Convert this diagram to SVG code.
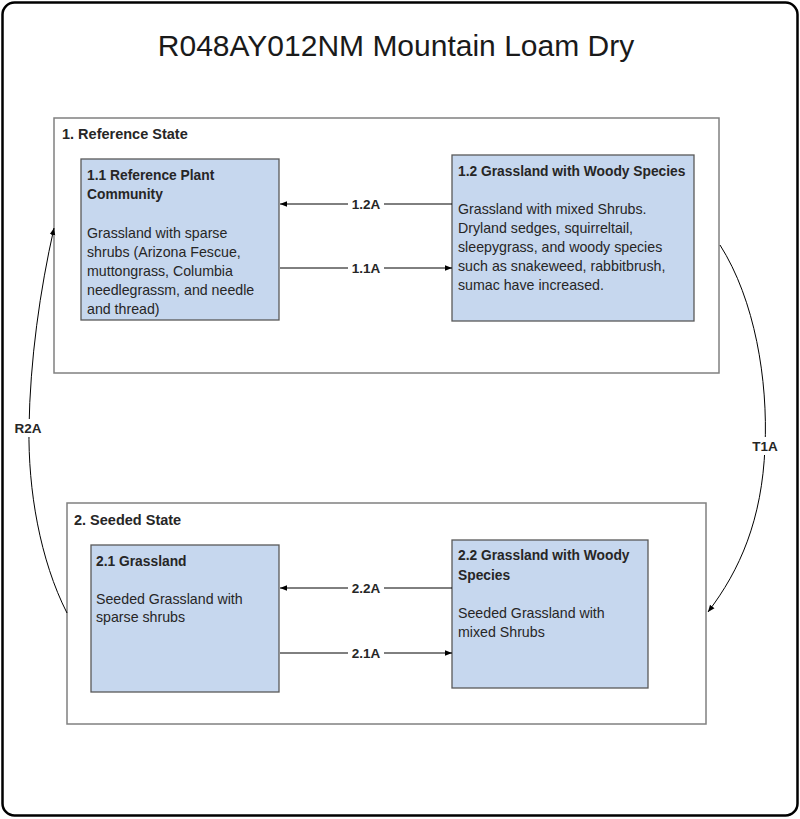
<svg xmlns="http://www.w3.org/2000/svg" width="800" height="819" viewBox="0 0 800 819">
<style>
text{font-family:"Liberation Sans",Arial,sans-serif;fill:#262626}
.t{font-size:30px;fill:#1a1a1a}
.s{font-size:14.5px;font-weight:bold}
.h{font-size:13.8px;font-weight:bold}
.b{font-size:14.2px}
.lbl{font-size:13.5px;font-weight:bold;text-anchor:middle}
.state{fill:#fff;stroke:#808080;stroke-width:1.5}
.com{fill:#c6d7ee;stroke:#595959;stroke-width:1.3}
.c{fill:none;stroke:#000;stroke-width:1}
</style>
<defs>
<marker id="ah" viewBox="0 0 10 10" refX="10" refY="5" markerWidth="7" markerHeight="7" orient="auto" markerUnits="userSpaceOnUse">
<path d="M0,1 L10,5 L0,9 z" fill="#000"/>
</marker>
</defs>
<rect x="0" y="0" width="800" height="819" fill="#fff"/>
<rect id="frame" x="2.5" y="2.5" width="795" height="813" rx="12" fill="#fff" stroke="#000" stroke-width="2.5"/>
<text class="t" x="396" y="56" text-anchor="middle">R048AY012NM Mountain Loam Dry</text>
<g id="state1">
<rect class="state" x="54" y="118" width="665" height="255"/>
<text class="s" x="62" y="139">1. Reference State</text>
</g>
<g id="state2">
<rect class="state" x="67" y="503" width="639" height="221"/>
<text class="s" x="74" y="525">2. Seeded State</text>
</g>
<g id="c11">
<rect class="com" x="81" y="159" width="198" height="161"/>
<text class="h" x="87" y="180">1.1 Reference Plant</text>
<text class="h" x="87" y="199">Community</text>
<text class="b" x="87" y="238">Grassland with sparse</text>
<text class="b" x="87" y="257">shrubs (Arizona Fescue,</text>
<text class="b" x="87" y="276">muttongrass, Columbia</text>
<text class="b" x="87" y="295">needlegrassm, and needle</text>
<text class="b" x="87" y="314">and thread)</text>
</g>
<g id="c12">
<rect class="com" x="452" y="155" width="242" height="166"/>
<text class="h" x="458" y="176">1.2 Grassland with Woody Species</text>
<text class="b" x="458" y="214">Grassland with mixed Shrubs.</text>
<text class="b" x="458" y="233">Dryland sedges, squirreltail,</text>
<text class="b" x="458" y="252">sleepygrass, and woody species</text>
<text class="b" x="458" y="271">such as snakeweed, rabbitbrush,</text>
<text class="b" x="458" y="290">sumac have increased.</text>
</g>
<g id="c21">
<rect class="com" x="91" y="545" width="188" height="147"/>
<text class="h" x="96" y="566">2.1 Grassland</text>
<text class="b" x="96" y="604">Seeded Grassland with</text>
<text class="b" x="96" y="622">sparse shrubs</text>
</g>
<g id="c22">
<rect class="com" x="452" y="540" width="196" height="148"/>
<text class="h" x="458" y="560">2.2 Grassland with Woody</text>
<text class="h" x="458" y="580">Species</text>
<text class="b" x="458" y="618">Seeded Grassland with</text>
<text class="b" x="458" y="637">mixed Shrubs</text>
</g>
<g id="connectors">
<line class="c" x1="452" y1="204" x2="280" y2="204" marker-end="url(#ah)"/>
<line class="c" x1="280" y1="268" x2="452" y2="268" marker-end="url(#ah)"/>
<line class="c" x1="452" y1="588" x2="280" y2="588" marker-end="url(#ah)"/>
<line class="c" x1="280" y1="653" x2="452" y2="653" marker-end="url(#ah)"/>
<path class="c" d="M720,245 C755,300 768,380 765,447 C762,520 740,570 708,612" marker-end="url(#ah)"/>
<path class="c" d="M67,613 C40,560 28,490 29,428 C30,360 40,290 54,228" marker-end="url(#ah)"/>
<g id="labels">
<rect x="348" y="196" width="36" height="16" fill="#fff"/>
<text class="lbl" x="366" y="209">1.2A</text>
<rect x="348" y="260" width="36" height="16" fill="#fff"/>
<text class="lbl" x="366" y="273">1.1A</text>
<rect x="348" y="580" width="36" height="16" fill="#fff"/>
<text class="lbl" x="366" y="593">2.2A</text>
<rect x="348" y="645" width="36" height="16" fill="#fff"/>
<text class="lbl" x="366" y="658">2.1A</text>
<rect x="748" y="437" width="34" height="18" fill="#fff"/>
<text class="lbl" x="765" y="451">T1A</text>
<rect x="11" y="419" width="34" height="18" fill="#fff"/>
<text class="lbl" x="28" y="433">R2A</text>
</g>
</g>
</svg>
